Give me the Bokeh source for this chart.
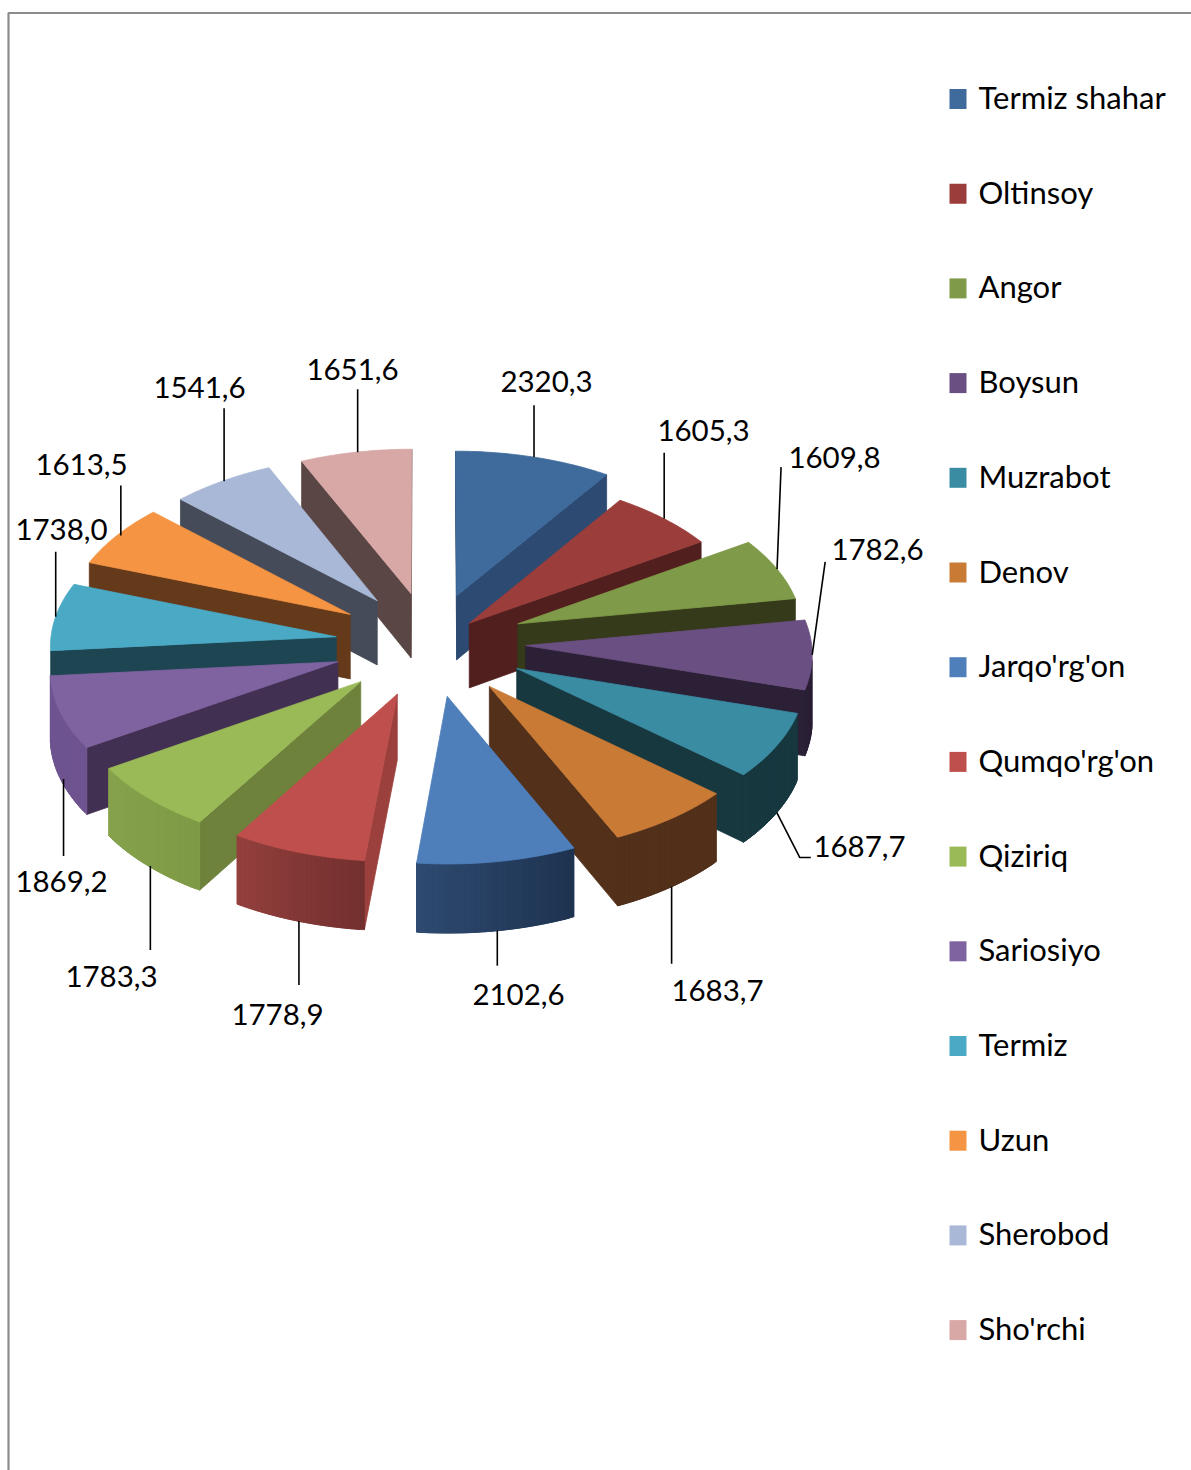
import math
from bokeh.plotting import figure
from bokeh.models import ColumnDataSource, Range1d
from bokeh.core.properties import value
from bokeh.embed import file_html
from bokeh.resources import INLINE

# ---- data ----
regions = ["Termiz shahar", "Oltinsoy", "Angor", "Boysun", "Muzrabot", "Denov", "Jarqo'rg'on",
           "Qumqo'rg'on", "Qiziriq", "Sariosiyo", "Termiz", "Uzun", "Sherobod", "Sho'rchi"]
values = [2320.3, 1605.3, 1609.8, 1782.6, 1687.7, 1683.7, 2102.6,
          1778.9, 1783.3, 1869.2, 1738.0, 1613.5, 1541.6, 1651.6]
value_labels = ["2320,3", "1605,3", "1609,8", "1782,6", "1687,7", "1683,7", "2102,6",
                "1778,9", "1783,3", "1869,2", "1738,0", "1613,5", "1541,6", "1651,6"]

# ---- styles ----
top_colors = ["#3E6A9C", "#9B3D3A", "#7F9A48", "#6A4F82", "#3A8CA3", "#C97A35", "#4E7FBB",
              "#BE4F4C", "#9ABA58", "#7F62A0", "#4AAAC5", "#F59443", "#A8B8D6", "#D8A8A7"]
wall_colors = ["#2C4A72", "#521F1F", "#353A1A", "#2B2035", "#183840", "#52301A", "#2E4A70",
               "#9C403D", "#6E823C", "#423052", "#1E4552", "#653A1B", "#454B58", "#5A4644"]
# outer rim colours at the slice's start angle and end angle
rim_start = ["#2C4A72", "#521F1F", "#353A1A", "#2B2035", "#183840", "#52301A", "#1E3350",
             "#73302F", "#7E9A46", "#6E5490", "#1E4552", "#653A1B", "#454B58", "#5A4644"]
rim_end = ["#2C4A72", "#521F1F", "#353A1A", "#2B2035", "#183840", "#52301A", "#2E4A70",
           "#93403D", "#86A24C", "#6E5490", "#1E4552", "#653A1B", "#454B58", "#5A4644"]

# ---- projection of the exploded pie ----
CX, CY, AX, AY = 431.0, 644.0, 381.0, 207.0
PERSP, DEPTH = 0.06, 65.0
RAD = 0.75
explosion = [0.25, 0.14, 0.25, 0.25, 0.25, 0.25, 0.25, 0.25, 0.25, 0.258, 0.25, 0.25, 0.25, 0.25]
nudge_x = [-2, 0, -2, -1, 1, 0, 0, -3, -3, 0, -1, -1, 0, -1]
nudge_y = [0, -1, -2, -2, -1, 0, 0, 0, 0, 0, -1, -3, -2, -1]
current = 0


def proj(X, Y):
    w = 1 + PERSP * Y
    return CX + AX * X / w + nudge_x[current], CY - AY * Y / w + nudge_y[current]


def depth(Y):
    return DEPTH / (1 + PERSP * Y)


def faces_camera(nx, ny, X, Y):
    return nx * (0 - X) + ny * (-1 / PERSP - Y) > 0


def mix(c1, c2, t):
    a = [int(c1[i:i + 2], 16) for i in (1, 3, 5)]
    b = [int(c2[i:i + 2], 16) for i in (1, 3, 5)]
    return "#%02x%02x%02x" % tuple(round(a[i] + (b[i] - a[i]) * t) for i in range(3))


total = sum(values)
angles = []
acc = 0.0
for v in values:
    angles.append((acc / total * 2 * math.pi, (acc + v) / total * 2 * math.pi))
    acc += v

order = sorted(range(len(values)), key=lambda i: -math.cos(sum(angles[i]) / 2))
xs, ys, cs = [], [], []


def add(px, py, c):
    xs.append(px)
    ys.append(py)
    cs.append(c)


def quad3d(a, b, c):
    ax, ay = proj(*a)
    bx, by = proj(*b)
    add([ax, bx, bx, ax], [ay, by, by + depth(b[1]), ay + depth(a[1])], c)


for i in order:
    current = i
    a0, a1 = angles[i]
    mid = (a0 + a1) / 2
    e = explosion[i]
    ox, oy = e * math.sin(mid), e * math.cos(mid)
    n = 30
    arc = []
    for k in range(n + 1):
        th = a0 + (a1 - a0) * k / n
        arc.append((ox + RAD * math.sin(th), oy + RAD * math.cos(th), th))
    apex = (ox, oy)
    start = arc[0][:2]
    end = arc[-1][:2]
    # radial walls
    if faces_camera(-math.cos(a0), math.sin(a0), *apex):
        quad3d(apex, start, wall_colors[i])
    if faces_camera(math.cos(a1), -math.sin(a1), *apex):
        quad3d(apex, end, wall_colors[i])
    # outer rim, strip by strip; each strip runs on under the next one, so no seams
    for k in range(n):
        X0, Y0, t0 = arc[k]
        tm = t0 + (a1 - a0) / n / 2
        if math.cos(tm) < -0.09:
            quad_pts = [(X0, Y0)]
            for j in range(k + 1, min(k + 2, n) + 1):
                quad_pts.append(arc[j][:2])
            tx = [proj(*q)[0] for q in quad_pts]
            ty = [proj(*q)[1] for q in quad_pts]
            bx = tx[::-1]
            by = [proj(*q)[1] + depth(q[1]) for q in quad_pts][::-1]
            add(tx + bx, ty + by, mix(rim_start[i], rim_end[i], k / (n - 1)))
    # top
    pts = [proj(*apex)] + [proj(X, Y) for X, Y, _ in arc]
    add([q[0] for q in pts], [q[1] for q in pts], top_colors[i])

W, H = 1191, 1470
p = figure(width=W, height=H, x_range=Range1d(0, W), y_range=Range1d(H, 0),
           output_backend="svg", toolbar_location=None, min_border=0)
p.axis.visible = False
p.grid.visible = False
p.outline_line_color = None
p.background_fill_color = "white"

# chart-area border
p.line([8, 8, W], [H, 12.5, 12.5], line_color="#8c8c8c", line_width=2.2)

p.patches("x", "y", source=ColumnDataSource(dict(x=xs, y=ys, c=cs)),
          fill_color="c", line_color="c", line_width=0.8)

# leader lines: offsets from the slice's outer-arc midpoint
leader_off = [[(0, -52)], [(0, -66)], [(4, -102)], [(13, -93)], [(23, 45), (34, 45)], [(0, 77)], [(0, 35)],
              [(0, 64)], [(0, 84)], [(0, 77)], [(0, -65)], [(0, -50)], [(0, -73)], [(0, -63)]]
lead_dx = [0, 0, 0, 0, 0, 0, 0, 1, 2, 3, 0, 4, 2, 2]
lead_front = [False, False, False, False, True, True, True, True, True, True, False, False, False, False]
label_x = [546, 703, 834, 877, 859, 717, 518, 277, 111, 61, 61, 81, 199, 352]
label_y = [381, 430, 457, 549, 846, 990, 994, 1014, 976, 881, 529, 464, 387, 369]

for i in range(len(values)):
    current = i
    mid = sum(angles[i]) / 2
    r = explosion[i] + RAD
    X, Y = r * math.sin(mid), r * math.cos(mid)
    ax, ay = proj(X, Y)
    ax += lead_dx[i]
    if lead_front[i]:
        ay += depth(Y)
    lx = [ax] + [ax + d[0] for d in leader_off[i]]
    ly = [ay] + [ay + d[1] for d in leader_off[i]]
    p.line(lx, ly, line_color="black", line_width=1.6)

p.text(label_x, label_y, text=value_labels, text_font=value("Lato"),
       text_font_size="29.5px", text_align="center", text_baseline="middle", text_color="#000000")

# legend
leg_y = [98.5 + k * 94.7 for k in range(len(regions))]
p.quad(left=[949] * 14, right=[966] * 14, top=[y - 10 for y in leg_y], bottom=[y + 10 for y in leg_y],
       fill_color=top_colors, line_color=None)
p.text([978] * 14, [y - 2 for y in leg_y], text=regions, text_font=value("Lato"),
       text_font_size="31px", text_align="left", text_baseline="middle", text_color="#000000")

open("out.html", "w").write(file_html(p, INLINE))
